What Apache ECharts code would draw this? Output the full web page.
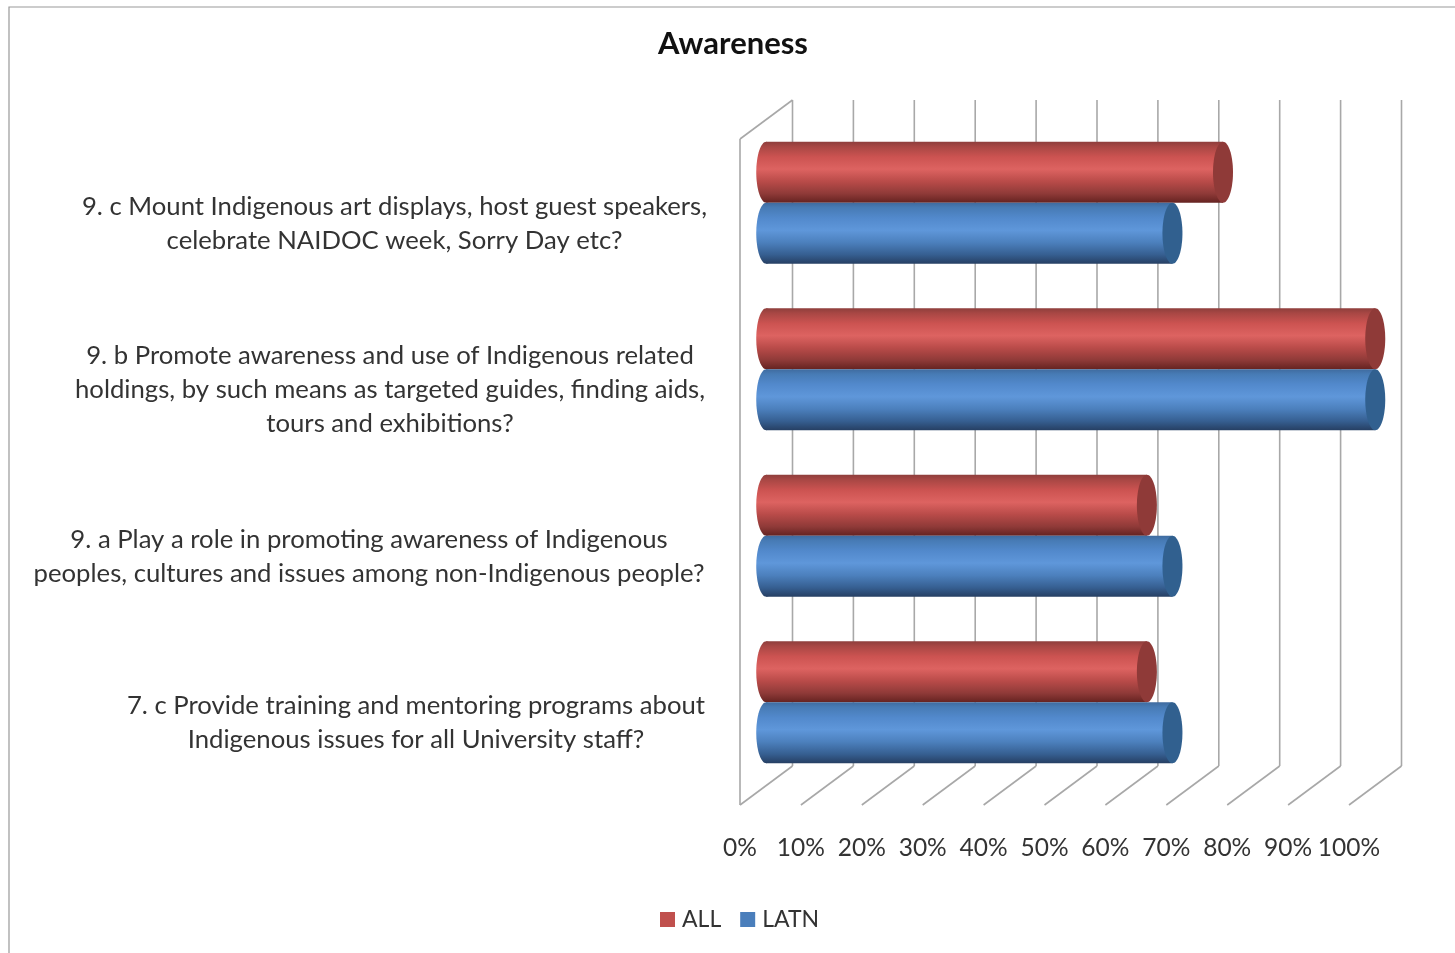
<!DOCTYPE html>
<html><head><meta charset="utf-8">
<style>html,body{margin:0;padding:0;background:#fff}#c{width:1455px;height:953px}</style>
<script src="https://cdn.jsdelivr.net/npm/echarts@6/dist/echarts.min.js"></script>
</head><body><div id="c"></div>
<script>
const categories = [
  ['7. c Provide training and mentoring programs about','Indigenous issues for all University staff?'],
  ['9. a Play a role in promoting awareness of Indigenous','peoples, cultures and issues among non-Indigenous people?'],
  ['9. b Promote awareness and use of Indigenous related','holdings, by such means as targeted guides, finding aids,','tours and exhibitions?'],
  ['9. c Mount Indigenous art displays, host guest speakers,','celebrate NAIDOC week, Sorry Day etc?']
];
const allValues = [62.5, 62.5, 100, 75];
const latnValues = [66.7, 66.7, 100, 66.7];
const ticks = [0,10,20,30,40,50,60,70,80,90,100];
const blockWidths = [580, 674, 632, 623];

const FONT = 'Lato';
const DEPTH_X = 52.5, DEPTH_Y = -39;
const BAR_H = 61, CAP_RX = 10;
const LINE = '#a8a8a8';
const TEXT = '#333';
const grad = stops => new echarts.graphic.LinearGradient(0,0,0,1,stops.map(s=>({offset:s[0],color:s[1]})));
const RED = [[0,'#8e3e3c'],[0.08,'#a84744'],[0.25,'#cc5351'],[0.45,'#dd6361'],[0.65,'#b94b49'],[0.85,'#8f3a38'],[1,'#652321']];
const BLUE = [[0,'#3f6b9f'],[0.08,'#477bb5'],[0.25,'#5289cc'],[0.45,'#5f97da'],[0.65,'#4c80bd'],[0.85,'#365f91'],[1,'#263f63']];

function cylinder(stops, capColor, offset){
  return function(params, api){
    const start = api.coord([0, api.value(1)]);
    const end = api.coord([api.value(0), api.value(1)]);
    const x0 = start[0] + DEPTH_X/2, x1 = end[0] + DEPTH_X/2;
    const cy = start[1] + DEPTH_Y/2 + offset*BAR_H/2;
    const top = cy - BAR_H/2;
    const fill = grad(stops);
    return {type:'group', children:[
      {type:'ellipse', shape:{cx:x0, cy:cy, rx:CAP_RX, ry:BAR_H/2}, style:{fill:fill}},
      {type:'rect', shape:{x:x0, y:top, width:x1-x0, height:BAR_H}, style:{fill:fill}},
      {type:'ellipse', shape:{cx:x1, cy:cy, rx:CAP_RX, ry:BAR_H/2}, style:{fill:capColor}}
    ]};
  };
}
function wall(params, api){
  const r = params.coordSys;
  const t = api.value(0);
  const x = api.coord([t, 0])[0];
  const yTop = r.y, yBot = r.y + r.height;
  const s = {stroke:LINE, lineWidth:1.6, fill:null};
  const kids = [
    {type:'line', shape:{x1:x+DEPTH_X, y1:yTop+DEPTH_Y, x2:x+DEPTH_X, y2:yBot+DEPTH_Y}, style:s},
    {type:'line', shape:{x1:x, y1:yBot, x2:x+DEPTH_X, y2:yBot+DEPTH_Y}, style:s}
  ];
  if (t === 0) {
    kids.push({type:'line', shape:{x1:x, y1:yTop, x2:x, y2:yBot}, style:s});
    kids.push({type:'line', shape:{x1:x, y1:yTop, x2:x+DEPTH_X, y2:yTop+DEPTH_Y}, style:s});
  }
  return {type:'group', children:kids};
}

const rich = {};
blockWidths.forEach((w,i)=>{ rich['r'+i] = {width:w, align:'center', fontFamily:FONT, fontSize:25.7, lineHeight:34, color:TEXT}; });

const chart = echarts.init(document.getElementById('c'));
chart.setOption({
  animation:false,
  backgroundColor:'#fff',
  title:{text:'Awareness', left:728, top:23, textAlign:'center',
    textStyle:{fontFamily:FONT, fontSize:31, fontWeight:'bold', color:'#111'}},
  legend:{data:['ALL','LATN'], left:655, top:903, itemWidth:15, itemHeight:15, itemGap:19, icon:'rect',
    textStyle:{fontFamily:FONT, fontSize:23, color:TEXT, padding:[0,0,0,2]}},
  graphic:[{type:'rect', silent:true, z:-1, shape:{x:9, y:7, width:1600, height:1200}, style:{fill:null, stroke:'#999', lineWidth:1.2}}],
  grid:{left:740, top:139, width:609, height:666},
  xAxis:{type:'value', min:0, max:100, interval:10,
    axisLine:{show:false}, axisTick:{show:false}, splitLine:{show:false},
    axisLabel:{formatter:'{value}%', margin:31, hideOverlap:false, fontFamily:FONT, fontSize:24.5, color:TEXT}},
  yAxis:{type:'category', data:categories.map(c=>c.join('\n')),
    axisLine:{show:false}, axisTick:{show:false}, splitLine:{show:false},
    axisLabel:{margin:34, interval:0, align:'right', padding:[2,0,0,0], rich:rich,
      formatter:(v,i)=>v.split('\n').map(l=>'{r'+i+'|'+l+'}').join('\n')}},
  series:[
    {name:'walls', type:'custom', z:1, silent:true, clip:false, data:ticks.map(t=>[t]), encode:{x:0}, renderItem:wall},
    {name:'ALL', type:'custom', z:2, clip:false, itemStyle:{color:'#c0504d'},
      data:allValues.map((v,i)=>[v,i]), encode:{x:0,y:1}, renderItem:cylinder(RED,'#8f3a38',-1)},
    {name:'LATN', type:'custom', z:3, clip:false, itemStyle:{color:'#4a7ebb'},
      data:latnValues.map((v,i)=>[v,i]), encode:{x:0,y:1}, renderItem:cylinder(BLUE,'#31608f',1)}
  ]
});
</script></body></html>
